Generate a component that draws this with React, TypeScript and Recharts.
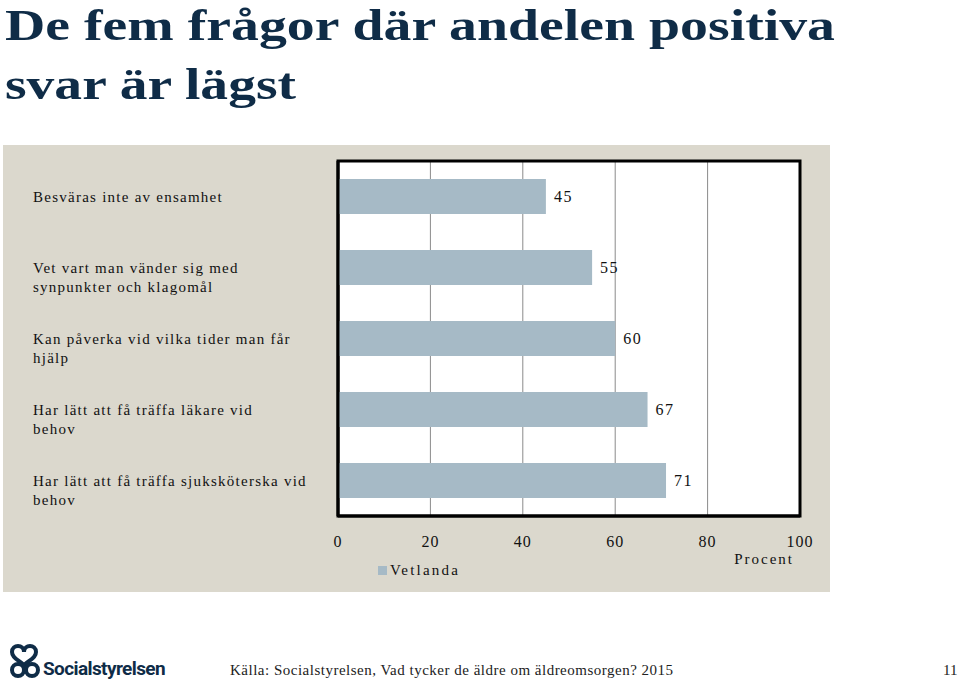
import React from "react";
import {
  BarChart,
  Bar,
  XAxis,
  YAxis,
  CartesianGrid,
  LabelList,
  ReferenceArea,
  Label,
} from "recharts";

const categories = [
  "Besväras inte av ensamhet",
  "Vet vart man vänder sig med\nsynpunkter och klagomål",
  "Kan påverka vid vilka tider man får\nhjälp",
  "Har lätt att få träffa läkare vid\nbehov",
  "Har lätt att få träffa sjuksköterska vid\nbehov",
];
const values = [45, 55, 60, 67, 71];
const xTicks = [0, 20, 40, 60, 80, 100];
const seriesName = "Vetlanda";

const data = categories.map((name, i) => ({ name, value: values[i] }));

const SERIF = "'Liberation Serif', 'DejaVu Serif', serif";
const NAVY = "#0f2c47";
const BAR = "#a6bac6";
const PANEL = "#dbd8cd";

function CategoryTick(props: any) {
  const { y, payload } = props;
  const lines = String(payload.value).split("\n");
  return (
    <text
      x={30}
      y={y}
      fontFamily={SERIF}
      fontSize={15}
      letterSpacing={1.25}
      fill="#111"
      textAnchor="start"
    >
      {lines.map((l, i) => (
        <tspan key={i} x={30} dy={i === 0 ? 5 : 19}>
          {l}
        </tspan>
      ))}
    </text>
  );
}

function Logo() {
  return (
    <svg width={200} height={43} style={{ position: "absolute", left: 6, top: 642 }}>
      <g fill="none" stroke={NAVY} strokeWidth={4}>
        <path d="M6 10 C6 2, 18 2, 18 10 C18 2, 30 2, 30 10 C30 18, 18 20, 18 24" />
        <path d="M6 10 C6 18, 18 20, 18 24" />
        <circle cx={12} cy={28} r={6} />
        <circle cx={26} cy={28} r={6} />
      </g>
      <text
        x={37}
        y={33}
        fontFamily="Roboto, 'DejaVu Sans', sans-serif"
        fontWeight={700}
        fontSize={19}
        letterSpacing={-0.6}
        fill={NAVY}
      >
        Socialstyrelsen
      </text>
    </svg>
  );
}

export default function App() {
  return (
    <div
      style={{
        position: "absolute",
        left: 0,
        top: 0,
        width: 960,
        height: 685,
        background: "#fff",
        overflow: "hidden",
      }}
    >
      <svg width={960} height={120} style={{ position: "absolute", left: 0, top: 0 }}>
        <text
          x={5}
          y={40}
          fontFamily={SERIF}
          fontWeight={700}
          fontSize={44}
          fill={NAVY}
          textLength={830}
          lengthAdjust="spacingAndGlyphs"
        >
          De fem frågor där andelen positiva
        </text>
        <text
          x={5}
          y={99}
          fontFamily={SERIF}
          fontWeight={700}
          fontSize={44}
          fill={NAVY}
          textLength={291}
          lengthAdjust="spacingAndGlyphs"
        >
          svar är lägst
        </text>
      </svg>

      <div
        style={{
          position: "absolute",
          left: 3,
          top: 145,
          width: 827,
          height: 447,
          background: PANEL,
        }}
      >
        <BarChart
          width={827}
          height={447}
          data={data}
          layout="vertical"
          margin={{ top: 16, right: 30, bottom: 0, left: 0 }}
        >
          <CartesianGrid horizontal={false} stroke="#8a8a8a" strokeWidth={1} fill="#fff" />
          <XAxis
            type="number"
            domain={[0, 100]}
            ticks={xTicks}
            interval={0}
            tickLine={false}
            axisLine={{ stroke: "#000", strokeWidth: 3 }}
            tick={{ fontFamily: SERIF, fontSize: 16, fill: "#111", letterSpacing: 1 }}
            tickMargin={14}
            height={76}
          >
            <Label
              content={(p: any) => {
                const vb = p.viewBox || {};
                return (
                  <text
                    x={vb.x + vb.width - 6}
                    y={vb.y + 48}
                    textAnchor="end"
                    fontFamily={SERIF}
                    fontSize={15}
                    letterSpacing={2}
                    fill="#111"
                  >
                    Procent
                  </text>
                );
              }}
            />
          </XAxis>
          <YAxis
            type="category"
            dataKey="name"
            width={335}
            tickLine={false}
            axisLine={{ stroke: "#000", strokeWidth: 3 }}
            tick={<CategoryTick />}
            interval={0}
          />
          <ReferenceArea x1={0} x2={100} fill="none" stroke="#000" strokeWidth={3} ifOverflow="visible" />
          <Bar dataKey="value" name={seriesName} fill={BAR} barSize={35} isAnimationActive={false}>
            <LabelList
              dataKey="value"
              position="right"
              offset={8}
              fill="#111"
              fontFamily={SERIF}
              fontSize={16}
              letterSpacing={1.5}
            />
          </Bar>
        </BarChart>
        <div
          style={{
            position: "absolute",
            left: 375,
            top: 417,
            fontFamily: SERIF,
            fontSize: 15,
            letterSpacing: 2.2,
            color: "#111",
            display: "flex",
            alignItems: "center",
          }}
        >
          <span
            style={{ display: "inline-block", width: 9, height: 9, background: BAR, marginRight: 3 }}
          />
          {seriesName}
        </div>
      </div>

      <Logo />
      <div
        style={{
          position: "absolute",
          left: 230,
          top: 662,
          fontFamily: SERIF,
          fontSize: 15,
          letterSpacing: 0.5,
          color: "#222",
          whiteSpace: "nowrap",
        }}
      >
        Källa: Socialstyrelsen, Vad tycker de äldre om äldreomsorgen? 2015
      </div>
      <div
        style={{
          position: "absolute",
          left: 943,
          top: 662,
          fontFamily: SERIF,
          fontSize: 15,
          color: "#222",
        }}
      >
        11
      </div>
    </div>
  );
}
